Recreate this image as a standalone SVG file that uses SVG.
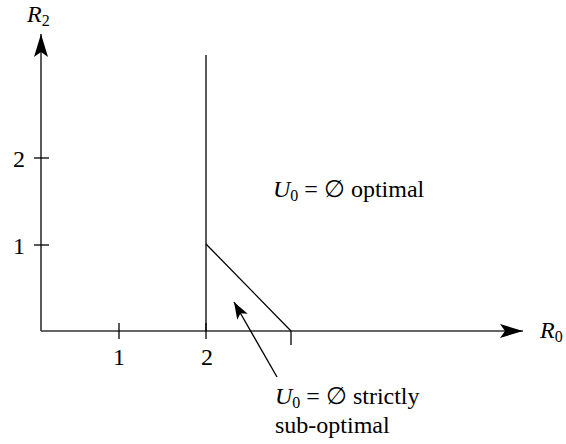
<svg xmlns="http://www.w3.org/2000/svg" width="566" height="444" viewBox="0 0 566 444">
<style>
.ln{stroke:#000;stroke-width:1.3;fill:none}
.ax{stroke:#333;stroke-width:1.6;fill:none}
text{font-family:"Liberation Serif","DejaVu Serif",serif;font-size:24px;fill:#000}
.it{font-style:italic}
.sub{font-size:16px;font-style:normal}
</style>
<defs>
<marker id="ah" markerWidth="24" markerHeight="14" refX="23" refY="7" orient="auto" markerUnits="userSpaceOnUse">
<path d="M0,0 L23,7 L0,14 L5,7 Z" fill="#000"/>
</marker>
<marker id="ah2" markerWidth="18" markerHeight="12" refX="17" refY="6" orient="auto" markerUnits="userSpaceOnUse">
<path d="M0,0 L17,6 L0,12 L4,6 Z" fill="#000"/>
</marker>
</defs>
<g id="connectors">
<line class="ax" x1="41" y1="331" x2="41" y2="34" marker-end="url(#ah)"/>
<line class="ax" x1="41" y1="331" x2="523" y2="331" marker-end="url(#ah)"/>
<line class="ln" x1="34" y1="158" x2="49" y2="158"/>
<line class="ln" x1="34" y1="245" x2="49" y2="245"/>
<line class="ln" x1="119" y1="323" x2="119" y2="339"/>
<line class="ln" x1="206" y1="323" x2="206" y2="339"/>
<line class="ln" x1="291" y1="331" x2="291" y2="345"/>
<line class="ln" x1="206" y1="55" x2="206" y2="331"/>
<line class="ln" x1="206" y1="244" x2="291" y2="331"/>
<line class="ln" x1="277" y1="377" x2="234" y2="302" marker-end="url(#ah2)"/>
</g>
<g id="labels">
<text x="27" y="22" class="it">R<tspan class="sub" dy="4">2</tspan></text>
<text x="540" y="338" class="it">R<tspan class="sub" dy="4">0</tspan></text>
<text x="19" y="167" text-anchor="middle">2</text>
<text x="19" y="254" text-anchor="middle">1</text>
<text x="119" y="365" text-anchor="middle">1</text>
<text x="207" y="365" text-anchor="middle">2</text>
</g>
<g id="region-optimal">
<text x="273" y="197"><tspan class="it">U</tspan><tspan class="sub" dy="4">0</tspan><tspan dy="-4"> = ∅ optimal</tspan></text>
</g>
<g id="region-suboptimal">
<text x="275" y="404"><tspan class="it">U</tspan><tspan class="sub" dy="4">0</tspan><tspan dy="-4"> = ∅ strictly</tspan></text>
<text x="275" y="433">sub-optimal</text>
</g>
</svg>
